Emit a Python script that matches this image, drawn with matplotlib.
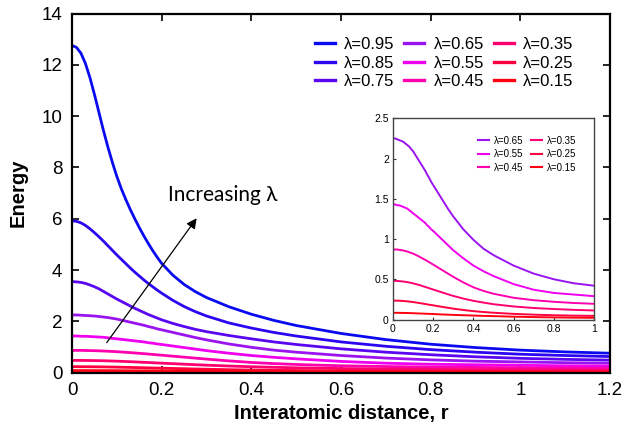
import matplotlib
matplotlib.use("Agg")
import matplotlib.pyplot as plt

plt.rcParams['font.family'] = ['Liberation Sans', 'DejaVu Sans']

r = [0, 0.01, 0.02, 0.03, 0.04, 0.05, 0.06, 0.07, 0.08, 0.09, 0.1,
     0.11, 0.12, 0.13, 0.14, 0.15, 0.16, 0.17, 0.18, 0.19, 0.2,
     0.225, 0.25, 0.275, 0.3, 0.35, 0.4, 0.45, 0.5, 0.6, 0.7, 0.8, 0.9, 1.0, 1.1, 1.2]

lambdas = ["0.95", "0.85", "0.75", "0.65", "0.55", "0.45", "0.35", "0.25", "0.15"]

e095 = [12.75, 12.68, 12.45, 12.05, 11.5, 10.85, 10.15, 9.45, 8.8, 8.2, 7.65,
        7.17, 6.75, 6.36, 6.0, 5.66, 5.34, 5.04, 4.76, 4.5, 4.26,
        3.8, 3.44, 3.16, 2.93, 2.57, 2.28, 2.04, 1.84, 1.53, 1.29, 1.11, 0.98, 0.88, 0.81, 0.76]
e085 = [5.92, 5.9, 5.84, 5.74, 5.61, 5.46, 5.3, 5.13, 4.95, 4.77, 4.59,
        4.42, 4.25, 4.08, 3.92, 3.77, 3.62, 3.48, 3.35, 3.22, 3.1,
        2.82, 2.58, 2.38, 2.21, 1.94, 1.74, 1.57, 1.43, 1.2, 1.03, 0.9, 0.8, 0.72, 0.67, 0.63]
e075 = [3.55, 3.54, 3.52, 3.48, 3.42, 3.35, 3.27, 3.17, 3.07, 2.97, 2.87,
        2.78, 2.69, 2.6, 2.51, 2.43, 2.35, 2.27, 2.2, 2.13, 2.06,
        1.92, 1.8, 1.69, 1.6, 1.45, 1.32, 1.2, 1.1, 0.93, 0.8, 0.7, 0.62, 0.56, 0.52, 0.49]
e065 = [2.25, 2.25, 2.24, 2.23, 2.22, 2.21, 2.19, 2.17, 2.15, 2.12, 2.09,
        2.05, 2.01, 1.97, 1.93, 1.89, 1.85, 1.8, 1.76, 1.71, 1.67,
        1.57, 1.47, 1.37, 1.28, 1.12, 0.99, 0.88, 0.8, 0.67, 0.57, 0.5, 0.45, 0.42, 0.39, 0.37]
e055 = [1.43, 1.43, 1.42, 1.42, 1.41, 1.4, 1.39, 1.38, 1.36, 1.34, 1.32,
        1.3, 1.28, 1.26, 1.24, 1.22, 1.2, 1.17, 1.15, 1.12, 1.1,
        1.04, 0.98, 0.92, 0.86, 0.76, 0.67, 0.6, 0.54, 0.44, 0.37, 0.33, 0.31, 0.29, 0.27, 0.26]
e045 = [0.87, 0.87, 0.87, 0.866, 0.862, 0.858, 0.852, 0.845, 0.837, 0.828, 0.818,
        0.807, 0.795, 0.782, 0.769, 0.755, 0.741, 0.727, 0.712, 0.697, 0.682,
        0.644, 0.606, 0.568, 0.53, 0.46, 0.4, 0.355, 0.32, 0.27, 0.24, 0.22, 0.205, 0.195, 0.185, 0.175]
e035 = [0.48, 0.48, 0.479, 0.477, 0.475, 0.472, 0.469, 0.465, 0.46, 0.455, 0.449,
        0.443, 0.436, 0.429, 0.421, 0.413, 0.405, 0.397, 0.389, 0.38, 0.372,
        0.352, 0.332, 0.312, 0.293, 0.26, 0.232, 0.21, 0.19, 0.162, 0.143, 0.13, 0.12, 0.112, 0.106, 0.1]
e025 = [0.235, 0.235, 0.234, 0.233, 0.232, 0.23, 0.228, 0.226, 0.223, 0.22, 0.217,
        0.213, 0.209, 0.205, 0.201, 0.197, 0.193, 0.188, 0.184, 0.18, 0.176,
        0.165, 0.155, 0.145, 0.135, 0.118, 0.104, 0.093, 0.084, 0.07, 0.06, 0.053, 0.048, 0.045, 0.042, 0.04]
e015 = [0.083, 0.083, 0.083, 0.083, 0.082, 0.082, 0.081, 0.081, 0.08, 0.079, 0.078,
        0.077, 0.076, 0.075, 0.074, 0.073, 0.072, 0.071, 0.07, 0.069, 0.068,
        0.065, 0.062, 0.06, 0.057, 0.053, 0.049, 0.045, 0.042, 0.035, 0.03, 0.026, 0.023, 0.021, 0.019, 0.018]

energies = [e095, e085, e075, e065, e055, e045, e035, e025, e015]
colors = ['#0a0af0', '#2c06f0', '#5a06f0', '#9a14f0', '#f000f0',
          '#ff00b0', '#ff0070', '#ff0040', '#ff0010']

main_xticks = [0, 0.2, 0.4, 0.6, 0.8, 1.0, 1.2]
main_xticklabels = ["0", "0.2", "0.4", "0.6", "0.8", "1", "1.2"]
main_yticks = [0, 2, 4, 6, 8, 10, 12, 14]
inset_xticks = [0, 0.2, 0.4, 0.6, 0.8, 1.0]
inset_xticklabels = ["0", "0.2", "0.4", "0.6", "0.8", "1"]
inset_yticks = [0, 0.5, 1.0, 1.5, 2.0, 2.5]
inset_yticklabels = ["0", "0.5", "1", "1.5", "2", "2.5"]

fig = plt.figure(figsize=(6.28, 4.37), dpi=100)
W, H = 628, 437
ax = fig.add_axes([72 / W, 1 - 372.7 / H, (610 - 72) / W, (372.7 - 13.5) / H])

for lam, e, c in zip(lambdas, energies, colors):
    ax.plot(r, e, color=c, lw=2.0, label="λ=" + lam)

ax.set_xlim(0, 1.2)
ax.set_ylim(0, 14)
ax.set_xticks(main_xticks)
ax.set_xticklabels(main_xticklabels)
ax.set_yticks(main_yticks)
ax.tick_params(direction='in', top=True, right=True, length=5, width=1.2,
               labelsize=13.5, pad=7)
for s in ax.spines.values():
    s.set_linewidth(1.6)
ax.set_xlabel("Interatomic distance, r", fontsize=14.5, fontweight='bold', labelpad=3)
ax.set_ylabel("Energy", fontsize=14.5, fontweight='bold', labelpad=10)

leg = ax.legend(ncol=3, frameon=False, fontsize=12, handlelength=1.2,
                handletextpad=0.55, columnspacing=0.6, labelspacing=0.2,
                borderpad=0, loc='upper right',
                bbox_to_anchor=(582 / W, 1 - 29 / H), bbox_transform=fig.transFigure)
for h in leg.legend_handles:
    h.set_linewidth(2.4)

ax.annotate("", xy=(0.278, 6.02), xytext=(0.0774, 1.17),
            arrowprops=dict(arrowstyle='-|>', color='black', lw=0.9,
                            mutation_scale=15, shrinkA=0, shrinkB=0))
ax.text(0.215, 6.7, "Increasing λ", fontsize=15, family=['Lato', 'DejaVu Sans'],
        ha='left', va='baseline')

# inset
axi = fig.add_axes([393 / W, 1 - 319.5 / H, (594 - 393) / W, (319.5 - 118.3) / H])
for lam, e, c in zip(lambdas[3:], energies[3:], colors[3:]):
    axi.plot(r, e, color=c, lw=1.4, label="λ=" + lam)
axi.set_xlim(0, 1)
axi.set_ylim(0, 2.5)
axi.set_xticks(inset_xticks)
axi.set_xticklabels(inset_xticklabels)
axi.set_yticks(inset_yticks)
axi.set_yticklabels(inset_yticklabels)
axi.tick_params(direction='in', length=2.5, width=0.8, labelsize=7.5, pad=3,
                colors='#333333', labelcolor='black')
for s in axi.spines.values():
    s.set_linewidth(1.0)
    s.set_color('#444444')
li = axi.legend(ncol=2, frameon=False, fontsize=7, handlelength=1.1,
                handletextpad=0.5, columnspacing=0.8, labelspacing=0.35,
                borderpad=0, loc='upper right',
                bbox_to_anchor=(581 / W, 1 - 131 / H), bbox_transform=fig.transFigure)
for h in li.legend_handles:
    h.set_linewidth(1.5)

fig.savefig("out.png", dpi=100)
